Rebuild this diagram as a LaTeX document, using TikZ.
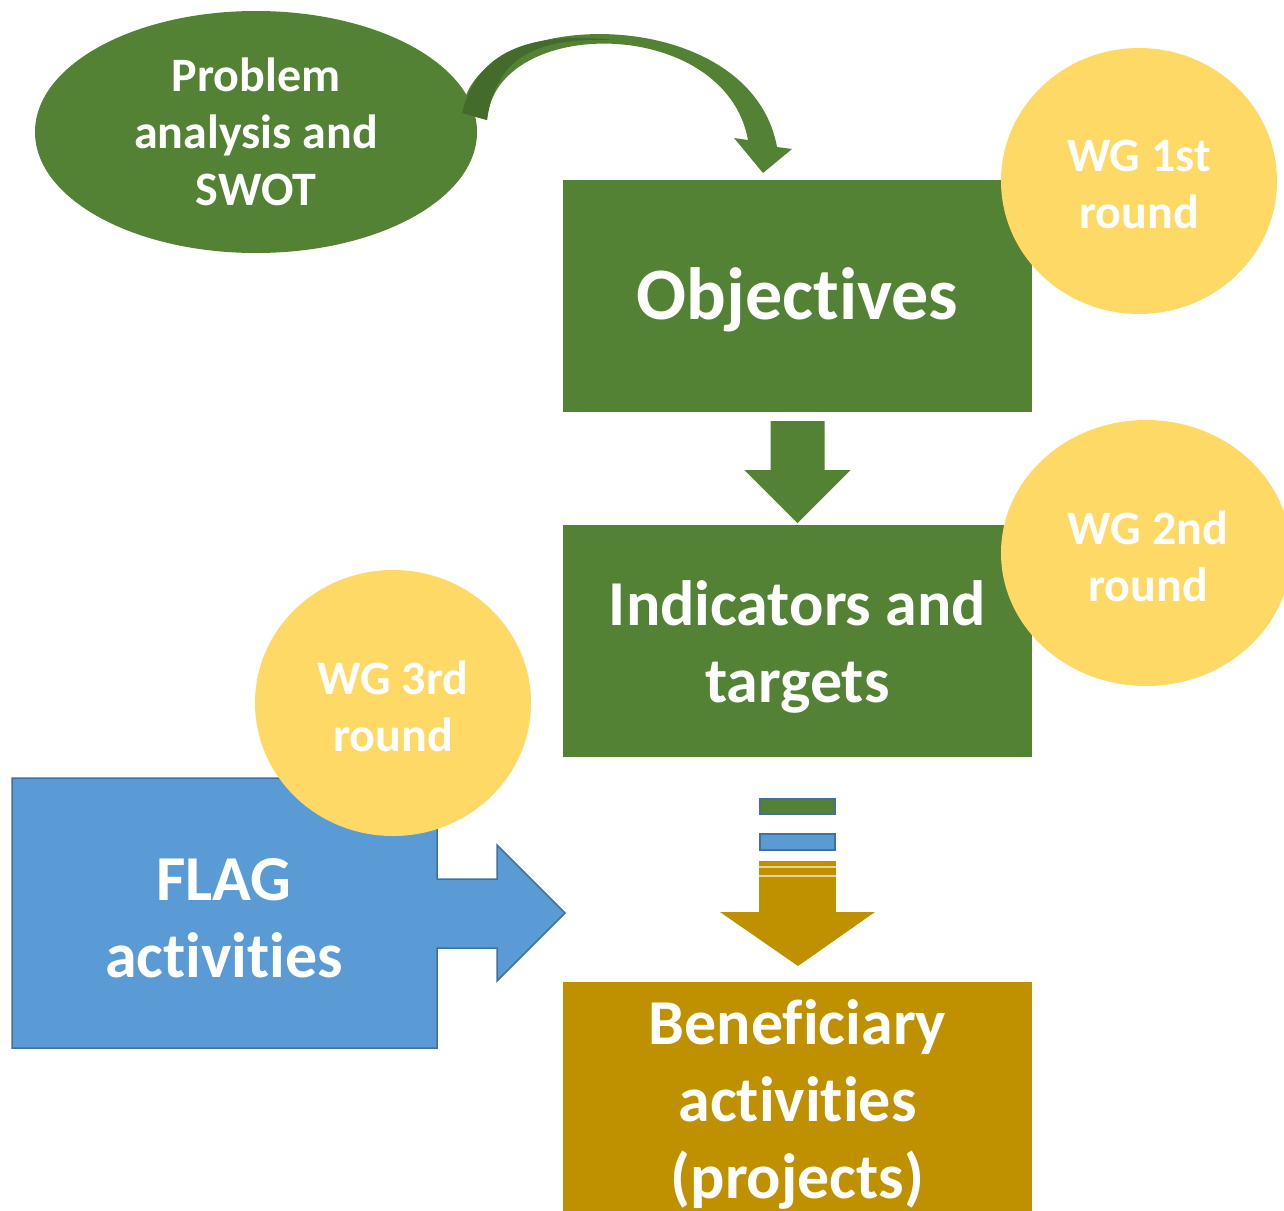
\documentclass[tikz,border=0pt]{standalone}
\usepackage{fontspec}
\setmainfont[Ligatures=NoCommon]{Carlito}
\usetikzlibrary{shapes.geometric,calc}
\definecolor{grn}{HTML}{548235}
\definecolor{dgrn}{HTML}{456B2C}
\definecolor{blu}{HTML}{5B9BD5}
\definecolor{bluedge}{HTML}{41719C}
\definecolor{yel}{HTML}{FFD966}
\definecolor{gold}{HTML}{BF9000}
\begin{document}
\begin{tikzpicture}[x=1pt,y=-1pt,
  bigtext/.style={text=white,font=\bfseries\fontsize{64}{77}\selectfont,align=center},
  smalltext/.style={text=white,font=\bfseries\fontsize{48}{57}\selectfont,align=center},
  greenbox/.style={fill=grn,inner sep=0pt,minimum width=469pt,minimum height=232pt,bigtext},
  wgcircle/.style={ellipse,fill=yel,inner sep=0pt,minimum width=276pt,minimum height=266pt,smalltext}]
\useasboundingbox (0,0) rectangle (1284,1210);
\clip (0,0) rectangle (1284,1210);

% problem analysis ellipse
\node[ellipse,fill=grn,inner sep=0pt,minimum width=442pt,minimum height=242pt,smalltext] (prob) at (256,132) {Problem\\analysis and\\SWOT};

% curved arrow from ellipse to objectives
\coordinate (cs1) at (462,113);
\coordinate (cs2) at (487,120);
\fill[grn] (cs1) .. controls (470,5) and (750,0) .. (777,147)
  -- (792,149) -- (763,173) -- (734,138) -- (748,140)
  .. controls (725,15) and (495,15) .. (cs2) -- cycle;
\fill[dgrn] (cs1) .. controls (478,45) and (540,32) .. (615,40)
  .. controls (545,38) and (497,50) .. (cs2) -- cycle;

% objectives
\node[greenbox,font=\bfseries\fontsize{74}{77}\selectfont] (obj) at (797.5,296) {};
\node[text=white,font=\bfseries\fontsize{74}{77}\selectfont] (objtext) at (797.5,300) {Objectives};

% down arrow green
\fill[grn] ($(obj.south)+(-27,9)$) -- ++(54,0) -- ++(0,49) -- ++(26,0)
  -- ($(obj.south)+(0,111)$) -- ++(-53,-53) -- ++(26,0) -- cycle;

% indicators
\node[greenbox] (ind) at (797.5,641) {};
\node[bigtext] (indtext) at (797.5,647) {Indicators and\\targets};

% striped gold arrow
\filldraw[fill=grn,draw=bluedge,line width=1.5pt] (760,799) rectangle (835,814);
\filldraw[fill=blu,draw=bluedge,line width=1.5pt] (760,834) rectangle (835,850);
\fill[gold] (759,861) rectangle (836,913);
\draw[white!60!gold,line width=1.5pt] (759,867) -- (836,867);
\draw[white!60!gold,line width=1.5pt] (759,876) -- (836,876);
\coordinate (gtip) at (798,966);
\fill[gold] (720,912) -- (875,912) -- (gtip) -- cycle;

% beneficiary
\node[fill=gold,inner sep=0pt,minimum width=469pt,minimum height=240pt,anchor=north] (ben) at (797.5,982) {};
\node[bigtext] (bentext) at (797.5,1104) {Beneficiary\\activities\\(projects)};

% FLAG arrow
\filldraw[fill=blu,draw=bluedge,line width=1.5pt] (12,778) -- (437,778) -- (437,879) -- (497,879)
  -- (497,845) -- (565,913) -- (497,981) -- (497,948) -- (437,948) -- (437,1048) -- (12,1048) -- cycle;
\node[bigtext] (flag) at (224,918) {FLAG\\activities};

% WG circles
\node[wgcircle] (wg1) at (1139,181) {};
\node[smalltext] at (1139,184) {WG 1st\\round};
\node[wgcircle,minimum width=290pt] (wg2) at (1146,553) {};
\node[smalltext] at (1148,556) {WG 2nd\\round};
\node[wgcircle] (wg3) at (393,703) {};
\node[smalltext] at (393,706) {WG 3rd\\round};
\end{tikzpicture}
\end{document}
